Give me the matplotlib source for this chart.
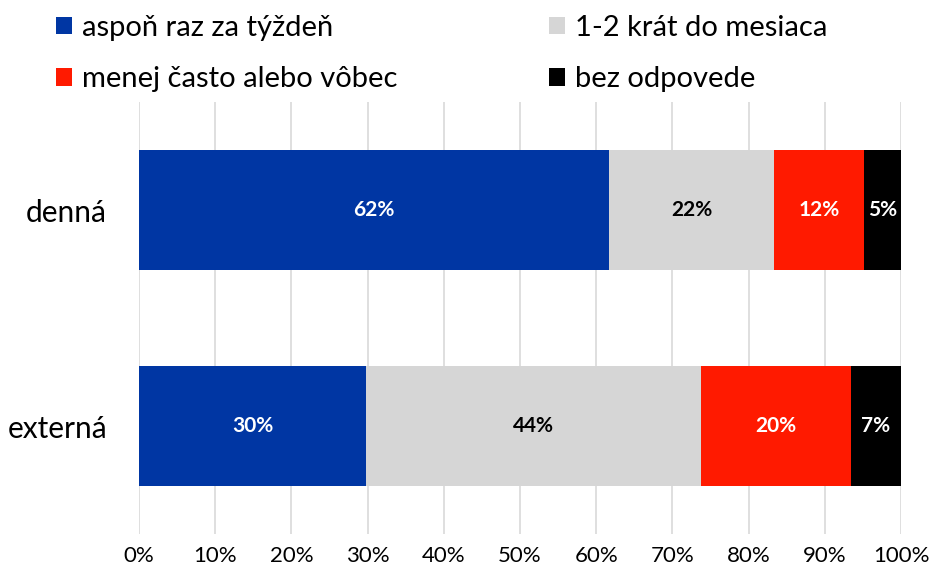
import matplotlib
matplotlib.use("Agg")
import matplotlib.pyplot as plt
import numpy as np

plt.rcParams['font.family'] = ['Lato', 'DejaVu Sans']

categories = ["denná", "externá"]
series_names = ["aspoň raz za týždeň", "1-2 krát do mesiaca", "menej často alebo vôbec", "bez odpovede"]
values = {
    "aspoň raz za týždeň": [61.7, 29.8],
    "1-2 krát do mesiaca": [21.6, 43.9],
    "menej často alebo vôbec": [11.8, 19.7],
    "bez odpovede": [4.9, 6.6],
}
colors = ["#0036A3", "#D6D6D6", "#FF1A00", "#000000"]
label_colors = ["white", "black", "white", "white"]
xticks = [0, 10, 20, 30, 40, 50, 60, 70, 80, 90, 100]

fig = plt.figure(figsize=(9.31, 5.73), dpi=100)
ax = fig.add_axes([139/931, 39/573, 762/931, 432/573])

y = np.arange(len(categories))
left = np.zeros(len(categories))
handles = []
for name, col, lc in zip(series_names, colors, label_colors):
    v = np.array(values[name])
    bars = ax.barh(y, v, left=left, height=0.555, color=col, label=name, zorder=3)
    handles.append(bars)
    for yi, (l, w) in enumerate(zip(left, v)):
        ax.text(l + w / 2, yi, f"{int(round(w))}%", ha="center", va="center",
                color=lc, fontsize=15, fontweight="bold", zorder=4)
    left += v

ax.set_xlim(0, 100)
ax.set_ylim(1.5, -0.5)
ax.set_xticks(xticks)
ax.set_xticklabels([f"{t}%" for t in xticks], fontsize=16)
ax.set_yticks(y)
ax.set_yticklabels(categories, fontsize=21.5)
ax.tick_params(axis="both", length=0)
ax.tick_params(axis="x", pad=9)
ax.tick_params(axis="y", pad=23)
ax.xaxis.grid(True, color="#D9D9D9", linewidth=1.2, zorder=0)
for s in ax.spines.values():
    s.set_visible(False)

# row-major legend order
order = [0, 2, 1, 3]
fig.legend(handles=[handles[i] for i in order], labels=[series_names[i] for i in order],
           loc="upper left", bbox_to_anchor=(56/931, 1 - 15/573), ncol=2, frameon=False,
           fontsize=21, handlelength=0.55, handleheight=0.55,
           handletextpad=0.34, columnspacing=5.2, labelspacing=0.86,
           borderaxespad=0, borderpad=0)

fig.savefig("out.png", dpi=100)
